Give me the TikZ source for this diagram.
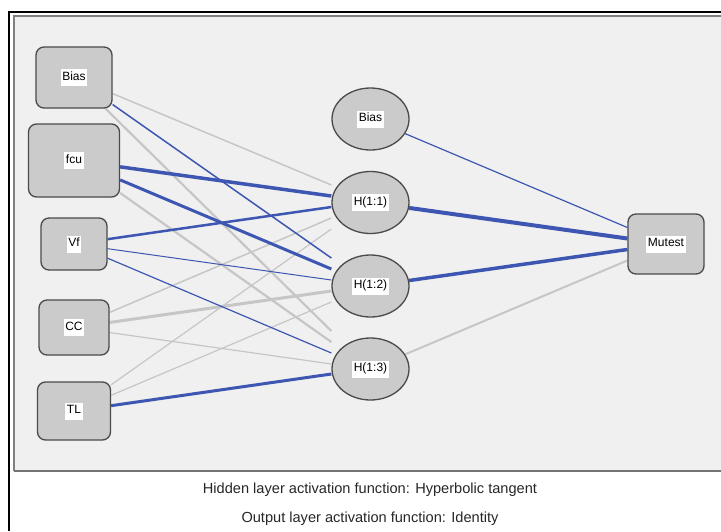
\documentclass[tikz,border=0pt]{standalone}
\usepackage{fontspec}
\setmainfont{Liberation Sans}
\usetikzlibrary{positioning,calc,backgrounds,shapes.geometric}
\definecolor{panelbg}{HTML}{F0F0F0}
\definecolor{unitfill}{HTML}{CBCBCB}
\definecolor{unitline}{HTML}{4A4A4A}
\definecolor{posw}{HTML}{3D56B2}
\definecolor{negw}{HTML}{C6C6C6}
\setlength{\fboxsep}{1.5pt}
\newcommand{\tagtext}[1]{\colorbox{white}{\strut #1}}
\tikzset{
  mlp/.style={x=1pt,y=-1pt,on grid,font=\fontsize{12}{14}\selectfont},
  unit/.style={draw=unitline,fill=unitfill,line width=1.3pt,inner sep=0pt},
  inunit/.style={unit,rectangle,rounded corners=8pt},
  hidunit/.style={unit,ellipse,minimum width=77pt,minimum height=62pt},
  wt/.style={line width=#1pt},
  caption/.style={font=\fontsize{14.6}{17}\selectfont,text=black!85},
}

\begin{document}
\begin{tikzpicture}[mlp]
  \useasboundingbox (0,0) rectangle (721,531);
  % input layer
  \node[inunit,minimum width=76pt,minimum height=61pt] (b1) at (74,77.5) {\tagtext{Bias}};
  \node[inunit,minimum width=91pt,minimum height=73pt] (fcu) [below=83pt of b1] {\tagtext{fcu}};
  \node[inunit,minimum width=66pt,minimum height=52pt] (vf) [below=83.5pt of fcu] {\tagtext{Vf}};
  \node[inunit,minimum width=70pt,minimum height=55pt] (cc) [below=83.5pt of vf] {\tagtext{CC}};
  \node[inunit,minimum width=73pt,minimum height=58pt] (tl) [below=83.5pt of cc] {\tagtext{TL}};
  % hidden layer
  \node[hidunit] (hb) at (370.5,119) {\tagtext{Bias}};
  \node[hidunit] (h11) [below=83.5pt of hb] {\tagtext{H(1:1)}};
  \node[hidunit] (h12) [below=83.5pt of h11] {\tagtext{H(1:2)}};
  \node[hidunit] (h13) [below=83pt of h12] {\tagtext{H(1:3)}};
  % output layer
  \node[inunit,minimum width=76pt,minimum height=60pt] (out) at (666,244) {\tagtext{Mutest}};

  \node[caption] (cap1) at (370,490) {Hidden layer activation function: Hyperbolic tangent};
  \node[caption] (cap2) at (370,519) {Output layer activation function: Identity};

  \begin{scope}[on background layer]
    % frame and panel
    \fill[panelbg] (14,16) rectangle (721,471);
    \draw[black!50,line width=1.5pt] (721,16) -- (14,16) -- (14,471);
    \draw[black!55,line width=2pt] (14,471) -- (721,471);
    \draw[black,line width=2.4pt] (9,531) -- (9,12) -- (721,12);
    % synaptic weights, grey = negative, blue = positive
    \foreach \s/\t/\dy/\c/\w in {
        b1/h11/-17.5/negw/1.5, b1/h13/-38/negw/2.2, fcu/h13/-27/negw/2.2,
        cc/h11/15.5/negw/1.5, cc/h12/5/negw/3, cc/h13/-5/negw/1.2,
        tl/h11/26.5/negw/1.2, tl/h12/16/negw/1.2,
        b1/h12/-28/posw/1.5, fcu/h11/-6.5/posw/3.5, fcu/h12/-17/posw/3,
        vf/h11/4.5/posw/2.5, vf/h12/-6/posw/1, vf/h13/-16/posw/1.2,
        tl/h13/5/posw/3}
      \draw[draw=\c,wt=\w] (\s) -- ($(\t.west)+(0,\dy)$);
    \foreach \s/\dy/\c/\w in {h13/16.5/negw/2, hb/-16.5/posw/1.2,
        h11/-5.5/posw/4, h12/5.5/posw/3.5}
      \draw[draw=\c,wt=\w] (\s) -- ($(out.west)+(0,\dy)$);
  \end{scope}
\end{tikzpicture}
\end{document}
